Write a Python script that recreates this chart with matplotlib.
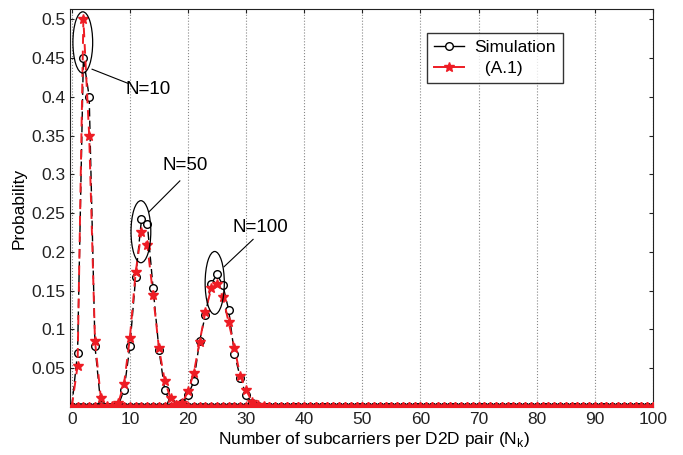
import numpy as np
import matplotlib
matplotlib.use('Agg')
import matplotlib.pyplot as plt
from matplotlib.patches import Ellipse

plt.rcParams['font.family'] = ['Liberation Sans', 'DejaVu Sans']

k = np.arange(0, 101)

# simulation values (nonzero part, starting at index given)
sim10_start = 0
sim10 = [0.0, 0.07, 0.45, 0.40, 0.078, 0.003]
ana10_start = 0
ana10 = [0.0, 0.053, 0.50, 0.35, 0.085, 0.012, 0.001]

sim50_start = 8
sim50 = [0.002, 0.022, 0.078, 0.168, 0.242, 0.236, 0.153, 0.074, 0.022, 0.005, 0.001]
ana50_start = 7
ana50 = [0.001, 0.005, 0.03, 0.089, 0.174, 0.226, 0.209, 0.144, 0.076, 0.034, 0.011, 0.003, 0.001]

sim100_start = 18
sim100 = [0.001, 0.005, 0.015, 0.033, 0.085, 0.119, 0.159, 0.171, 0.157, 0.125, 0.068, 0.038, 0.015, 0.005, 0.001]
ana100_start = 18
ana100 = [0.002, 0.005, 0.02, 0.044, 0.084, 0.123, 0.153, 0.159, 0.142, 0.109, 0.076, 0.04, 0.022, 0.007, 0.003, 0.001]

def full(vals, start):
    y = np.zeros(len(k))
    y[start:start + len(vals)] = vals
    return y

fig = plt.figure(figsize=(6.83, 4.55), dpi=100)
ax = fig.add_axes([0.1025, 0.1055, 0.8535, 0.8745])

series = [(sim10, sim10_start, ana10, ana10_start),
          (sim50, sim50_start, ana50, ana50_start),
          (sim100, sim100_start, ana100, ana100_start)]

for i, (s, s0, a, a0) in enumerate(series):
    ax.plot(k, full(s, s0), color='black', lw=1.0, marker='o', ms=5.5,
            mfc='white', mec='black', mew=1.0, dashes=(6, 3),
            label='Simulation' if i == 0 else None, zorder=3)
for i, (s, s0, a, a0) in enumerate(series):
    ax.plot(k, full(a, a0), color='#ee1c24', lw=1.4, marker='*', ms=7.5,
            mfc='#ee1c24', mec='#ee1c24', dashes=(5, 3.5),
            label='  (A.1)' if i == 0 else None, zorder=4)

# ellipses and annotations
ells = [(1.9, 0.47, 3.4, 0.079), (11.9, 0.226, 3.4, 0.08), (24.6, 0.16, 3.3, 0.081)]
for (cx, cy, w, h) in ells:
    ax.add_patch(Ellipse((cx, cy), w, h, fill=False, ec='black', lw=0.9, zorder=5))

ax.plot([3.5, 9.6], [0.4355, 0.4175], color='black', lw=0.8)
ax.text(9.3, 0.409, 'N=10', fontsize=13.5, va='center', ha='left')
ax.plot([13.3, 18.6], [0.2517, 0.2915], color='black', lw=0.8)
ax.text(19.6, 0.312, 'N=50', fontsize=13.5, va='center', ha='center')
ax.plot([26.2, 31.2], [0.1808, 0.2161], color='black', lw=0.8)
ax.text(32.5, 0.231, 'N=100', fontsize=13.5, va='center', ha='center')

ax.set_xlim(-0.3, 100)
ax.set_ylim(0, 0.513)
ax.set_xticks(np.arange(0, 101, 10))
ax.set_yticks([0.05, 0.1, 0.15, 0.2, 0.25, 0.3, 0.35, 0.4, 0.45, 0.5])
ax.set_yticklabels(['0.05', '0.1', '0.15', '0.2', '0.25', '0.3', '0.35', '0.4', '0.45', '0.5'])
ax.tick_params(labelsize=12.5, direction='in', length=3, top=True, right=True, colors='#222222')
ax.xaxis.grid(True, linestyle=':', color='#888888', lw=0.8)
for sp in ax.spines.values():
    sp.set_color('#222222')

ax.set_xlabel('Number of subcarriers per D2D pair (N$_{\\mathregular{k}}$)', fontsize=12.5)
ax.xaxis.set_label_coords(0.522, -0.058)
ax.set_ylabel('Probability', fontsize=12.5, labelpad=3)

leg = ax.legend(loc='upper left', bbox_to_anchor=(0.612, 0.94), fontsize=12.5,
                frameon=True, fancybox=False, edgecolor='black', handlelength=1.75,
                borderpad=0.4, labelspacing=0.35, handletextpad=0.6, borderaxespad=0)
leg.get_frame().set_linewidth(1.0)
for line in leg.get_lines():
    line.set_linestyle('-')

fig.savefig('out.png', dpi=100)
